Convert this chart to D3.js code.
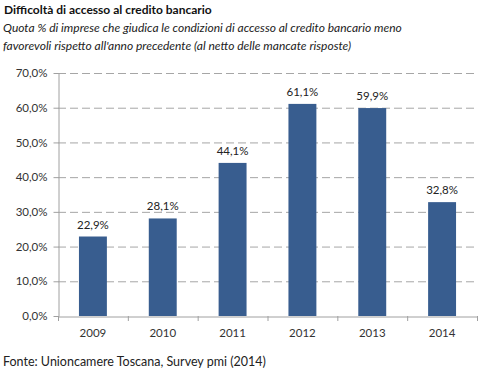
<!DOCTYPE html>
<html><head><meta charset="utf-8">
<script src="https://cdn.jsdelivr.net/npm/d3@7"></script>
<style>body{margin:0;background:#fff}svg{display:block}</style>
</head><body>
<svg id="c" width="485" height="375"></svg>
<script>
const years = ["2009","2010","2011","2012","2013","2014"];
const values = [22.9, 28.1, 44.1, 61.1, 59.9, 32.8];
const yTicks = [0,10,20,30,40,50,60,70];
const title = "Difficoltà di accesso al credito bancario";
const subtitle = ["Quota % di imprese che giudica le condizioni di accesso al credito bancario meno",
                  "favorevoli rispetto all'anno precedente (al netto delle mancate risposte)"];
const source = "Fonte: Unioncamere Toscana, Survey pmi (2014)";

const svg = d3.select("#c");
const font = "Lato, 'Open Sans', sans-serif";
const m = {l:58, r:477, t:73, b:316};
const x = d3.scaleBand().domain(years).range([m.l, m.r]).paddingInner(0.6).paddingOuter(0.3);
const xb = d3.scaleBand().domain(years).range([m.l, m.r]);
const y = d3.scaleLinear().domain([0,70]).range([m.b, m.t]);
const fmt = v => d3.format(".1f")(v).replace(".", ",") + "%";

svg.append("text").attr("x",4).attr("y",14).attr("font-family",font).attr("font-weight","bold")
  .attr("font-size",12).attr("fill","#111").text(title);
subtitle.forEach((s,i)=>svg.append("text").attr("x",3).attr("y",32+i*18).attr("font-family",font)
  .attr("font-style","italic").attr("font-size",12).attr("fill","#222").text(s));

// grid
svg.append("g").selectAll("line").data(yTicks.filter(d=>d>0)).join("line")
  .attr("x1",m.l).attr("x2",m.r).attr("y1",d=>y(d)+0.5).attr("y2",d=>y(d)+0.5)
  .attr("stroke","#a6a6a6").attr("stroke-dasharray","8,4");

// y axis
const ya = svg.append("g").attr("transform",`translate(${m.l+0.5},0)`)
  .call(d3.axisLeft(y).tickValues(yTicks).tickSize(5).tickSizeOuter(0).tickFormat(d=>fmt(d)).tickPadding(6));
ya.select(".domain").attr("stroke","#a0a0a0");
ya.selectAll(".tick line").attr("stroke","#a0a0a0");
ya.selectAll("text").attr("font-family",font).attr("font-size",11.5).attr("fill","#333");

// bars
svg.append("g").selectAll("rect").data(values).join("rect")
  .attr("x",(d,i)=>x(years[i])).attr("width",x.bandwidth())
  .attr("y",d=>y(d)).attr("height",d=>y(0)-y(d)).attr("fill","#385d8f");

// x axis
const xa = svg.append("g").attr("transform",`translate(0,${m.b+0.5})`)
  .call(d3.axisBottom(xb).tickSize(0).tickPadding(12));
xa.select(".domain").attr("stroke","#a0a0a0");
xa.selectAll("text").attr("font-family",font).attr("font-size",11.5).attr("fill","#333");
svg.append("g").selectAll("line").data(years.concat(["end"])).join("line")
  .attr("x1",(d,i)=>i<years.length?xb(d)+0.5:m.r+0.5).attr("x2",(d,i)=>i<years.length?xb(d)+0.5:m.r+0.5)
  .attr("y1",m.b).attr("y2",m.b+5).attr("stroke","#a0a0a0");

// labels
svg.append("g").selectAll("text").data(values).join("text")
  .attr("x",(d,i)=>x(years[i])+x.bandwidth()/2).attr("y",d=>y(d)-8)
  .attr("text-anchor","middle").attr("font-family",font).attr("font-size",11.5).attr("fill","#222")
  .text(d=>fmt(d));

svg.append("text").attr("x",3).attr("y",366).attr("font-family",font).attr("font-size",12.5)
  .attr("fill","#222").text(source);
</script>
</body></html>
